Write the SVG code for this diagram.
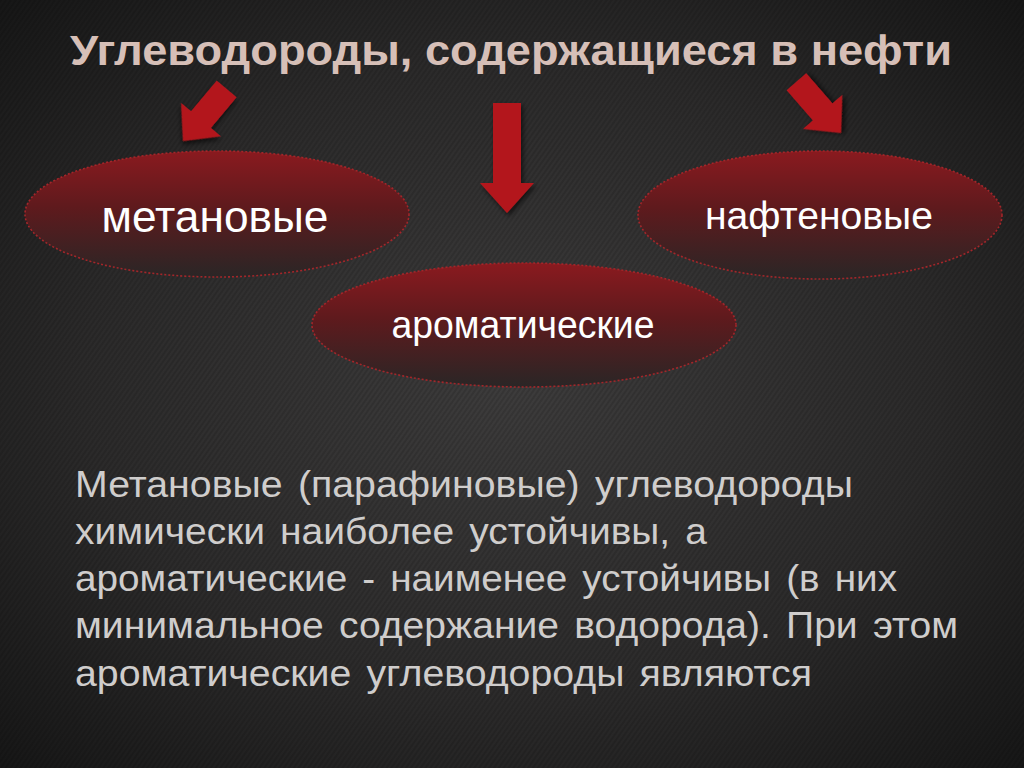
<svg xmlns="http://www.w3.org/2000/svg" width="1024" height="768" viewBox="0 0 1024 768">
<defs>
<radialGradient id="bg" cx="50%" cy="50%" r="70%">
<stop offset="0" stop-color="#3d3c3c"/>
<stop offset="0.6" stop-color="#2b2a2a"/>
<stop offset="1" stop-color="#171717"/>
</radialGradient>
<pattern id="tex" width="4" height="4" patternUnits="userSpaceOnUse" patternTransform="rotate(-55)">
<rect width="4" height="2" fill="#000" opacity="0.12"/>
</pattern>
<linearGradient id="ell" x1="0" y1="0" x2="0" y2="1">
<stop offset="0" stop-color="#8a1a1f"/>
<stop offset="0.45" stop-color="#5e1a1d"/>
<stop offset="1" stop-color="#2a2626"/>
</linearGradient>
<filter id="sh" x="-30%" y="-30%" width="160%" height="160%">
<feDropShadow dx="2" dy="3" stdDeviation="2.5" flood-color="#000" flood-opacity="0.6"/>
</filter>
<path id="arr" d="M-14,-110 L14,-110 L14,-30 L27,-30 L0,0 L-27,-30 L-14,-30 Z"/>
<path id="arrS" d="M-13,-68 L13,-68 L13,-28 L26,-28 L0,0 L-26,-28 L-13,-28 Z"/>
</defs>
<style>
.node ellipse{fill:url(#ell);stroke:#a3262a;stroke-width:1.6;stroke-dasharray:2 2}
.lbl{font-family:"Liberation Sans",Arial,sans-serif;fill:#ffffff;text-anchor:middle}
.title{font-family:"Liberation Sans",Arial,sans-serif;font-weight:bold;fill:#d6bfb7;font-size:42px}
.para{font-family:"Liberation Sans",Arial,sans-serif;fill:#cfcdcc;font-size:36px;word-spacing:4px}
.arrow{fill:#b3181d;filter:url(#sh)}
</style>
<rect width="1024" height="768" fill="url(#bg)"/>
<rect width="1024" height="768" fill="url(#tex)"/>
<text class="title" x="70" y="65" textLength="882" lengthAdjust="spacingAndGlyphs">Углеводороды, содержащиеся в нефти</text>
<g id="connectors">
<use href="#arrS" class="arrow" transform="translate(183,141) rotate(40)"/>
<use href="#arr" class="arrow" transform="translate(507,213)"/>
<use href="#arrS" class="arrow" transform="translate(841,133) rotate(-41)"/>
</g>
<g id="node-metan" class="node">
<ellipse cx="217" cy="214" rx="192" ry="63"/>
<text class="lbl" x="215" y="232" font-size="45" textLength="227" lengthAdjust="spacingAndGlyphs">метановые</text>
</g>
<g id="node-nafte" class="node">
<ellipse cx="820" cy="215" rx="182" ry="64"/>
<text class="lbl" x="819" y="229" font-size="38" textLength="228" lengthAdjust="spacingAndGlyphs">нафтеновые</text>
</g>
<g id="node-aromat" class="node">
<ellipse cx="524" cy="325" rx="212" ry="62"/>
<text class="lbl" x="523" y="338" font-size="38" textLength="263" lengthAdjust="spacingAndGlyphs">ароматические</text>
</g>
<g id="paragraph">
<text class="para" x="75" y="497" textLength="778" lengthAdjust="spacingAndGlyphs">Метановые (парафиновые) углеводороды</text>
<text class="para" x="75" y="544" textLength="632" lengthAdjust="spacingAndGlyphs">химически наиболее устойчивы, а</text>
<text class="para" x="75" y="591" textLength="822" lengthAdjust="spacingAndGlyphs">ароматические - наименее устойчивы (в них</text>
<text class="para" x="75" y="638" textLength="883" lengthAdjust="spacingAndGlyphs">минимальное содержание водорода). При этом</text>
<text class="para" x="75" y="686" textLength="737" lengthAdjust="spacingAndGlyphs">ароматические углеводороды являются</text>
</g>
</svg>
